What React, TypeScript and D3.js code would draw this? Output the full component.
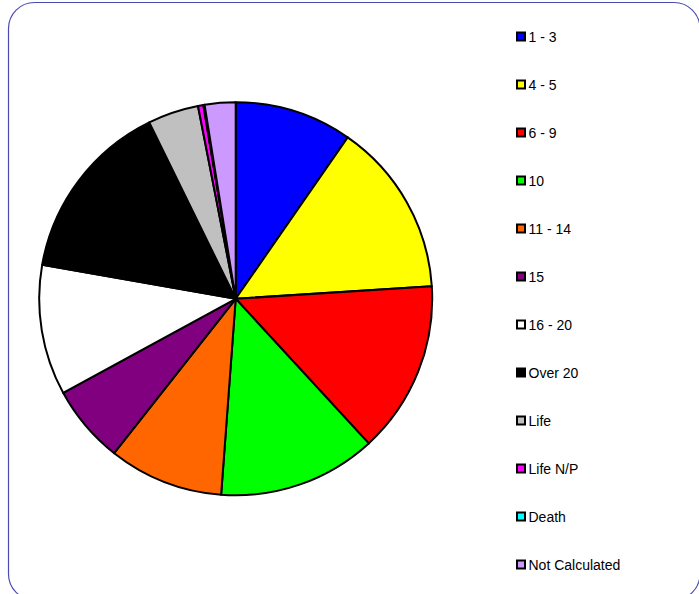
import React from "react";
import * as d3 from "d3";

const categories = ["1 - 3", "4 - 5", "6 - 9", "10", "11 - 14", "15", "16 - 20", "Over 20", "Life", "Life N/P", "Death", "Not Calculated"];
const values = [9.64, 14.31, 14.17, 13.0, 9.42, 6.44, 10.69, 14.97, 4.17, 0.44, 0.1, 2.53];
const colors = ["#0000FF", "#FFFF00", "#FF0000", "#00FF00", "#FF6600", "#800080", "#FFFFFF", "#000000", "#C0C0C0", "#FF00FF", "#00FFFF", "#CC99FF"];

export default function App() {
  const width = 699;
  const height = 594;
  const cx = 235.7;
  const cy = 298.8;
  const r = 196.5;
  const pie = d3.pie<number>().value((d) => d).sort(null);
  const arcs = pie(values);
  const arc = d3.arc<d3.PieArcDatum<number>>().innerRadius(0).outerRadius(r);
  const legendY = d3.scalePoint<string>().domain(categories).range([36.5, 564.5]);

  return (
    <svg width={width} height={height} style={{ position: "absolute", left: 0, top: 0 }}>
      <rect x={8.5} y={2.5} width={691.5} height={597.5} rx={26} ry={26} fill="#FFFFFF" stroke="#4B4BAF" strokeWidth={1.2} />
      <g transform={`translate(${cx},${cy})`}>
        {arcs.map((a, i) => (
          <path key={i} d={arc(a) || ""} fill={colors[i]} stroke="#000000" strokeWidth={2} strokeLinejoin="round" />
        ))}
      </g>
      <g fontFamily="'Liberation Sans', Arial, sans-serif" fontSize={14} fill="#000000">
        {categories.map((c, i) => {
          const y = legendY(c) as number;
          return (
            <g key={c}>
              <rect x={517} y={y - 4} width={8} height={8} fill={colors[i]} stroke="#000000" strokeWidth={2} />
              <text x={528.5} y={y + 5.2}>{c}</text>
            </g>
          );
        })}
      </g>
    </svg>
  );
}
